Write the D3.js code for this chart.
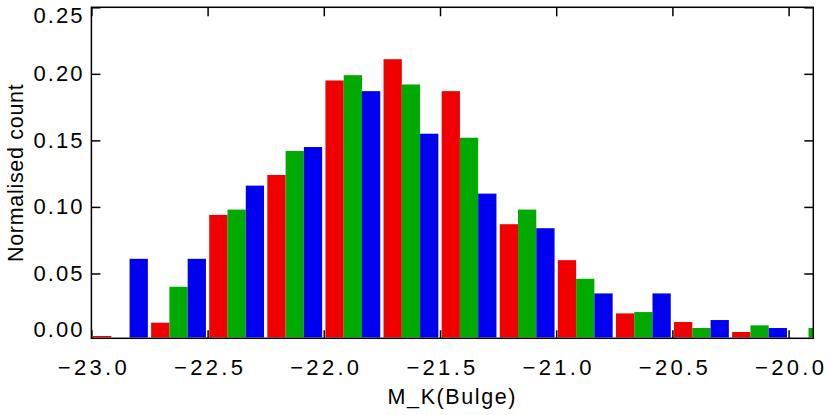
<!DOCTYPE html>
<html>
<head>
<meta charset="utf-8">
<script src="https://cdn.jsdelivr.net/npm/d3@7"></script>
<style>
  body { margin: 0; background: #fff; }
  text { font-family: "Liberation Sans", Arial, sans-serif; fill: #000; }
</style>
</head>
<body>
<div id="chart"></div>
<script>
// data
const binStarts = [-23.0, -22.75, -22.5, -22.25, -22.0, -21.75, -21.5, -21.25, -21.0, -20.75, -20.5, -20.25, -20.0]
const binWidth = 0.25
const seriesRed   = [0.003, 0.013, 0.094, 0.124, 0.195, 0.211, 0.187, 0.087, 0.060, 0.020, 0.0135, 0.006, 0]
const seriesGreen = [0, 0.040, 0.098, 0.142, 0.199, 0.192, 0.152, 0.098, 0.046, 0.021, 0.009, 0.011, 0.009]
const seriesBlue  = [0.061, 0.061, 0.116, 0.145, 0.187, 0.155, 0.110, 0.084, 0.035, 0.035, 0.015, 0.009, 0]
const xTicks = [-23.0, -22.5, -22.0, -21.5, -21.0, -20.5, -20.0]
const yTicks = [0.00, 0.05, 0.10, 0.15, 0.20, 0.25]

const width = 830
const height = 415
const plot = { left: 91.4, right: 813.3, top: 7.3, bottom: 338.3 }

const svg = d3.select("#chart")
  .append("svg")
    .attr("width", width)
    .attr("height", height)

// scales
const x = d3.scaleLinear()
  .domain([-23, -23 + (plot.right - plot.left) / 232.4])
  .range([plot.left, plot.right])

const y = d3.scaleLinear()
  .domain([0, 0.25])
  .range([340, plot.top])

const groupW = x(-23 + binWidth) - x(-23)
const inner = d3.scaleBand()
  .domain(["red", "green", "blue"])
  .range([0, groupW])
  .paddingOuter(0.09)

const colors = { red: "#f00000", green: "#00aa00", blue: "#0000f0" }
const series = { red: seriesRed, green: seriesGreen, blue: seriesBlue }

svg.append("clipPath").attr("id", "clip")
  .append("rect")
    .attr("x", plot.left)
    .attr("y", plot.top)
    .attr("width", plot.right - plot.left)
    .attr("height", plot.bottom - plot.top - 0.7)

const bars = []
binStarts.forEach((b, i) => {
  inner.domain().forEach(k => bars.push({ bin: b, key: k, value: series[k][i] }))
})

svg.append("g")
  .attr("clip-path", "url(#clip)")
  .selectAll("rect")
  .data(bars.filter(d => d.value > 0))
  .join("rect")
    .attr("x", d => x(d.bin) + inner(d.key))
    .attr("y", d => y(d.value))
    .attr("width", inner.bandwidth())
    .attr("height", d => y(0) - y(d.value))
    .attr("fill", d => colors[d.key])

// axes
const bottomAxis = svg.append("g")
  .attr("transform", `translate(0,${plot.bottom})`)
  .call(d3.axisBottom(x).tickValues(xTicks).tickFormat(d3.format(".1f")).tickSize(-8).tickPadding(21))
bottomAxis.selectAll("text")
  .attr("dx", "2px")
  .style("font-size", "22px")
  .style("letter-spacing", "3.3px")

svg.append("g")
  .attr("transform", `translate(0,${plot.top})`)
  .call(d3.axisTop(x).tickValues(xTicks).tickFormat("").tickSize(-9))

const leftAxis = svg.append("g")
  .attr("transform", `translate(${plot.left},0)`)
  .call(d3.axisLeft(y).tickValues(yTicks).tickFormat(d3.format(".2f")).tickSize(-9).tickPadding(7))
leftAxis.selectAll("text")
  .style("font-size", "22px")
  .style("letter-spacing", "2px")
// labels at the ends are pulled inside the box
leftAxis.selectAll(".tick text")
  .attr("y", d => Math.min(Math.max(y(d), plot.top + 8), plot.bottom - 8.5) - y(d))
leftAxis.selectAll(".tick").filter(d => d === 0).select("line").remove()

svg.append("g")
  .attr("transform", `translate(${plot.right},0)`)
  .call(d3.axisRight(y).tickValues(yTicks).tickFormat("").tickSize(-9))
  .selectAll(".tick").filter(d => d === 0).remove()

svg.selectAll(".tick line")
  .attr("stroke", "#000")
  .attr("stroke-width", 1.5)
svg.selectAll(".domain").remove()

// box
svg.append("rect")
  .attr("x", plot.left)
  .attr("y", plot.top)
  .attr("width", plot.right - plot.left)
  .attr("height", plot.bottom - plot.top)
  .attr("fill", "none")
  .attr("stroke", "#000")
  .attr("stroke-width", 1.5)

// titles
svg.append("text")
  .attr("x", (plot.left + plot.right) / 2)
  .attr("y", 404)
  .attr("text-anchor", "middle")
  .style("font-size", "21.5px")
  .style("letter-spacing", "1.6px")
  .text("M_K(Bulge)")

svg.append("text")
  .attr("transform", `translate(23,${(plot.top + plot.bottom) / 2}) rotate(-90)`)
  .attr("text-anchor", "middle")
  .style("font-size", "21.5px")
  .style("letter-spacing", "0.7px")
  .text("Normalised count")
</script>
</body>
</html>
